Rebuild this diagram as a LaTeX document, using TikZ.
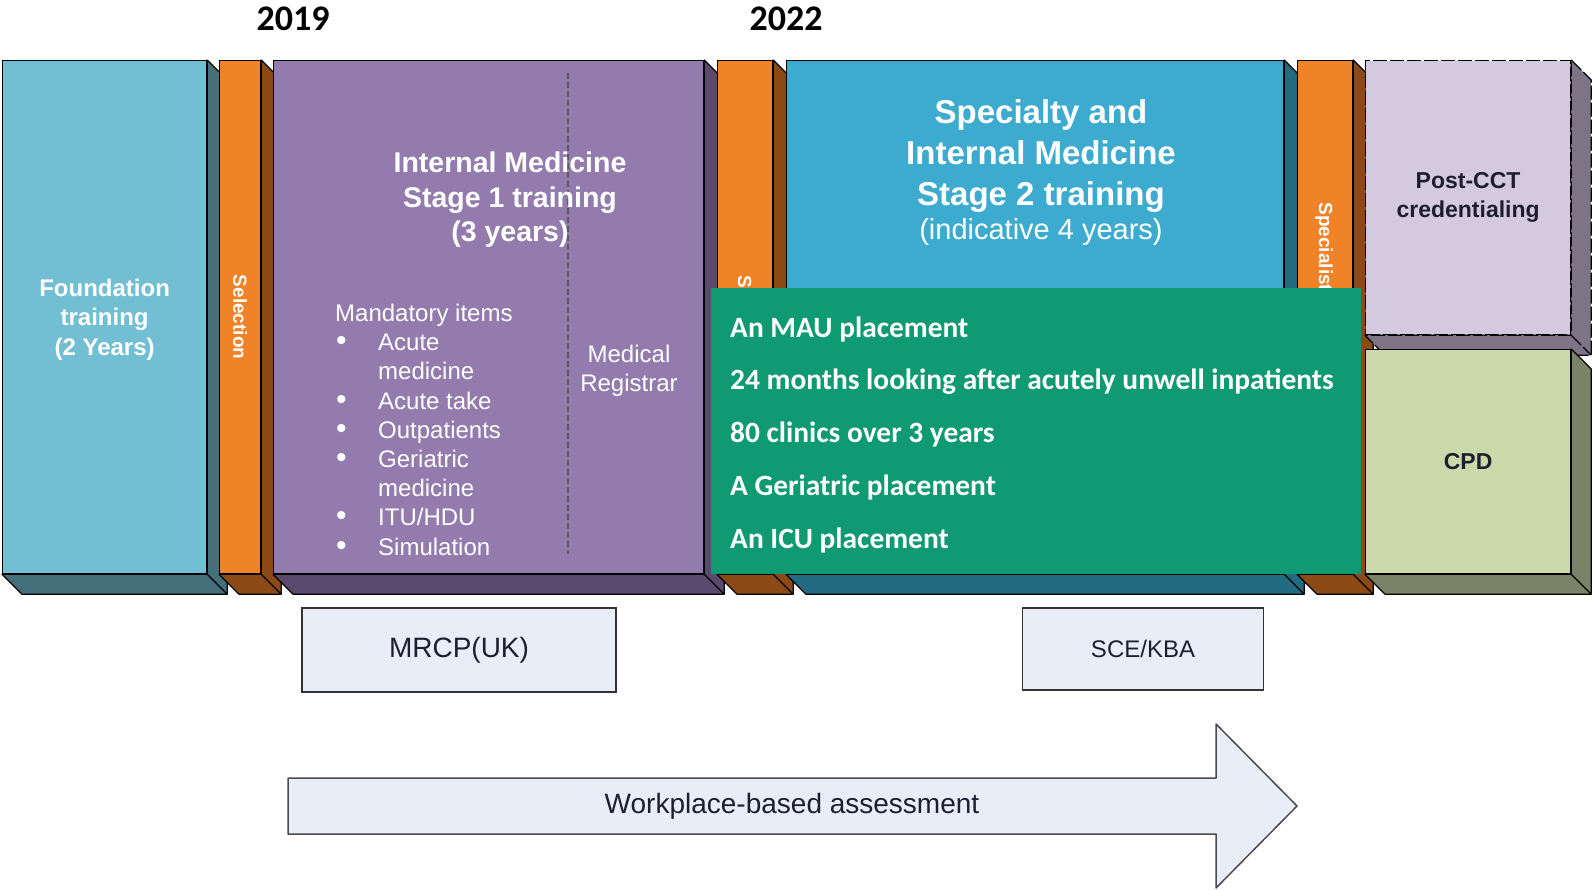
\documentclass[tikz,border=0pt]{standalone}
\usepackage{graphicx}
\usepackage{fontspec}
\setmainfont{Liberation Sans}
\newfontfamily\calibri{Carlito}
\usetikzlibrary{calc}
\definecolor{foundblue}{HTML}{72BED3}
\definecolor{foundside}{HTML}{446F7B}
\definecolor{selorange}{HTML}{F08227}
\definecolor{selside}{HTML}{8C4A16}
\definecolor{imtpurple}{HTML}{937BAD}
\definecolor{imtside}{HTML}{5B4A6D}
\definecolor{stblue}{HTML}{3DABCF}
\definecolor{stside}{HTML}{236B80}
\definecolor{cctlilac}{HTML}{D3CAE0}
\definecolor{cctside}{HTML}{7D7585}
\definecolor{cpdgreen}{HTML}{CAD9A9}
\definecolor{cpdside}{HTML}{7A8366}
\definecolor{mauteal}{HTML}{109A72}
\definecolor{assessfill}{HTML}{E8EDF7}
\definecolor{darktext}{HTML}{1E1E30}
\newcommand{\fsize}[2]{\fontsize{#1}{#2}\selectfont}
\newcommand{\itembullet}{\makebox[43pt][l]{\hspace{1pt}\raisebox{0pt}[0pt][0pt]{\fsize{30}{30}\textbullet}}}
\newcommand{\slabsides}[3][]{%
  \filldraw[fill=#3, draw=black, line width=1.2pt, line join=round, #1]
    (#2.north east) -- ++(20,20) -- ($(#2.south east)+(20,20)$)
    -- ($(#2.south west)+(20,20)$) -- (#2.south west) -- (#2.south east) -- cycle;
  \draw[line width=1.2pt, #1] (#2.south east) -- ++(20,20);
}

\begin{document}
\begin{tikzpicture}[x=1pt, y=-1pt]
  \tikzset{slab/.style={draw=black, line width=1.2pt, inner sep=0pt, anchor=north west,
      text=white, font=\bfseries\fsize{24}{29.5}, align=center},
    bar label/.style={rotate=-90, text=white, font=\bfseries\fsize{19}{22}},
    plain/.style={text=white, font=\fsize{24}{29.2}, align=center, inner sep=0pt},
    title/.style={text=white, font=\bfseries\fsize{28.5}{34.5}, align=center},
    year/.style={font=\calibri\bfseries\fsize{36}{40}},
    mau item/.style={anchor=base west, text=white, font=\calibri\bfseries\fsize{29.4}{34}, inner sep=0pt},
    assess box/.style={draw=black!80, line width=1.5pt, fill=assessfill, text=darktext}}
  \useasboundingbox (0,0) rectangle (1593,889);

  \node[year] (Y-2019) at (293,19) {2019};
  \node[year] (Y-2022) at (786,19) {2022};

  \node[slab, fill=foundblue, minimum width=204, minimum height=513, text depth=0pt] (FT) at (2,60)
    {Foundation\\training\\(2 Years)};
  \slabsides{FT}{foundside}

  \node[slab, fill=selorange, minimum width=41, minimum height=513] (SEL-1) at (219,60) {};
  \slabsides{SEL-1}{selside}
  \node[bar label] (SEL-1-text) at (SEL-1.center) {Selection};

  \node[slab, fill=imtpurple, minimum width=430, minimum height=513] (IMT-1) at (273,60) {};
  \slabsides{IMT-1}{imtside}
  \draw[black!65, line width=1.2pt, dash pattern=on 6pt off 3pt] (568,73) -- (568,554);
  \node[title] (IMT-1-title) at (510,200) {Internal Medicine\\Stage 1 training\\(3 years)};
  \node[plain, anchor=north west, align=left] (IMT-1-items) at (335,304) {Mandatory items\\
    \itembullet Acute\\ \hspace*{43pt}medicine\\ \itembullet Acute take\\
    \itembullet Outpatients\\ \itembullet Geriatric\\ \hspace*{43pt}medicine\\
    \itembullet ITU/HDU\\ \itembullet Simulation};
  \node[plain] (IMT-1-reg) at (629,371) {Medical\\Registrar};

  \node[slab, fill=selorange, minimum width=55, minimum height=513] (SEL-2) at (717,60) {};
  \slabsides{SEL-2}{selside}
  \node[bar label, anchor=west] (SEL-2-text) at (745,272) {Selection};

  \node[slab, fill=stblue, minimum width=497, minimum height=513] (IMT-2) at (786,60) {};
  \slabsides{IMT-2}{stside}
  \node[text=white, font=\bfseries\fsize{33}{40.6}, align=center] (IMT-2-title) at (1041,156)
    {Specialty and\\Internal Medicine\\Stage 2 training};
  \node[text=white, font=\fsize{29}{34}] (IMT-2-note) at (1041,232) {(indicative 4 years)};

  \node[slab, fill=selorange, minimum width=55, minimum height=513] (SEL-3) at (1297,60) {};
  \slabsides{SEL-3}{selside}
  \node[bar label, anchor=west] (SEL-3-text) at (1324,199) {Specialist selection};

  \node[slab, fill=cctlilac, dash pattern=on 14pt off 3pt, minimum width=205, minimum height=274,
    text=darktext, font=\bfseries\fsize{23}{29}] (PCC) at (1365,60) {Post-CCT\\credentialing};
  \slabsides[dash pattern=on 14pt off 3pt]{PCC}{cctside}

  \node[slab, fill=cpdgreen, minimum width=205, minimum height=224,
    text=darktext, font=\bfseries\fsize{23}{29}] (CPD) at (1365,349) {CPD};
  \slabsides{CPD}{cpdside}

  \node[fill=mauteal, minimum width=650, minimum height=286, anchor=north west, inner sep=0pt]
    (MAU) at (711,288) {};
  \foreach \txt [count=\i] in {An MAU placement,
      24 months looking after acutely unwell inpatients,
      80 clinics over 3 years, A Geriatric placement, An ICU placement}
    \node[mau item] (MAU-\i) at (730,{337+52.8*(\i-1)}) {\txt};

  \node[assess box, minimum width=314, minimum height=84, font=\fsize{28}{32}] (MRCP) at (459,650) {MRCP(UK)};
  \node[assess box, minimum width=241, minimum height=82, font=\fsize{24}{28}] (SCE) at (1143,649) {SCE/KBA};

  \draw[fill=assessfill, draw=black!70, line width=1.5pt, line join=round]
    (288,778) -- (1216,778) -- (1216,724) -- (1297,806) -- (1216,888) -- (1216,834) -- (288,834) -- cycle;
  \node[font=\fsize{28}{32}, text=darktext] (WBA) at (792,806) {Workplace-based assessment};
\end{tikzpicture}
\end{document}
